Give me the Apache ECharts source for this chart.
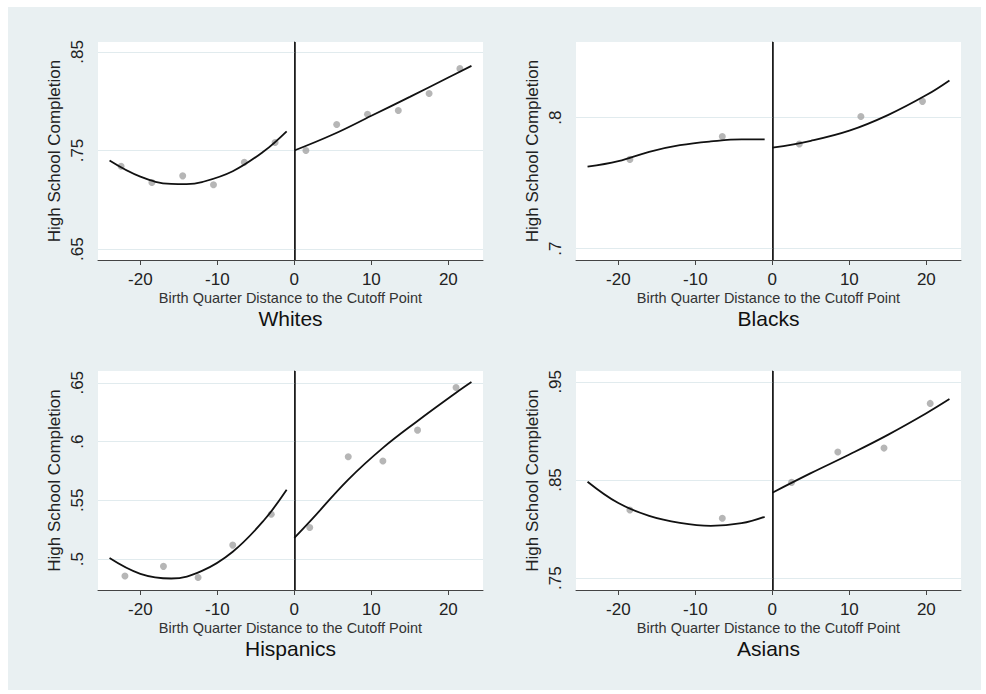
<!DOCTYPE html>
<html lang="en">
<head>
    <meta charset="UTF-8">
    <title>rd_high_school_completion</title>
    <style type="text/css">
        html, body {
            margin: 0;
            padding: 0;
            background: #fff;
        }
        #frame {
            position: absolute;
            left: 8px;
            top: 7px;
            width: 973px;
            height: 683px;
            background: #e9f0f2;
        }
        #box {
            position: absolute;
            left: 0;
            top: 0;
            width: 986px;
            height: 694px;
        }
    </style>
</head>
<body>
<div id="frame"></div>
<div id="box"></div>
<script type="text/javascript" src="https://cdn.jsdelivr.net/npm/echarts@6/dist/echarts.min.js"></script>
<script type="text/javascript">
    // x ticks shared by all panels
    const xTicks = [-20, -10, 0, 10, 20];

    // Whites
    const whitesBinX = [-22.5, -18.5, -14.5, -10.5, -6.5, -2.5, 1.5, 5.5, 9.5, 13.5, 17.5, 21.5];
    const whitesMean = [0.734, 0.7175, 0.7243, 0.7152, 0.7381, 0.7581, 0.750, 0.7764, 0.7868, 0.7905, 0.8078, 0.833];
    const whitesFitLeftX = [-24, -20, -16, -14, -12, -8, -4, -1];
    const whitesFitLeft = [0.7398, 0.7235, 0.7162, 0.716, 0.718, 0.729, 0.749, 0.7695];
    const whitesFitRightX = [0, 5, 10, 15, 20, 23];
    const whitesFitRight = [0.750, 0.7662, 0.7852, 0.8044, 0.824, 0.8358];
    const whitesTicks = [0.65, 0.75, 0.85];

    // Blacks
    const blacksBinX = [-18.5, -6.5, 3.5, 11.5, 19.5];
    const blacksMean = [0.7682, 0.7857, 0.7799, 0.801, 0.8125];
    const blacksFitLeftX = [-24, -20, -16, -12, -8, -4, -1];
    const blacksFitLeft = [0.7626, 0.7669, 0.774, 0.779, 0.7819, 0.7835, 0.7835];
    const blacksFitRightX = [0, 5, 10, 15, 20, 23];
    const blacksFitRight = [0.7771, 0.7824, 0.7901, 0.802, 0.8173, 0.8285];
    const blacksTicks = [0.7, 0.8];

    // Hispanics
    const hispBinX = [-22, -17, -12.5, -8, -3, 2, 7, 11.5, 16, 21];
    const hispMean = [0.4856, 0.4938, 0.4844, 0.5119, 0.5382, 0.5269, 0.587, 0.5835, 0.6097, 0.646];
    const hispFitLeftX = [-24, -20, -16, -12, -8, -4, -1];
    const hispFitLeft = [0.5009, 0.4875, 0.4835, 0.490, 0.5063, 0.5326, 0.5589];
    const hispFitRightX = [0, 2.3, 7, 11.5, 16, 21, 23];
    const hispFitRight = [0.518, 0.534, 0.5676, 0.5946, 0.6175, 0.6415, 0.6506];
    const hispTicks = [0.5, 0.55, 0.6, 0.65];

    // Asians
    const asianBinX = [-18.5, -6.5, 2.5, 8.5, 14.5, 20.5];
    const asianMean = [0.8195, 0.811, 0.8476, 0.8785, 0.8825, 0.928];
    const asianFitLeftX = [-24, -20, -16, -12, -8, -4, -1];
    const asianFitLeft = [0.8483, 0.8265, 0.8135, 0.8063, 0.8033, 0.806, 0.8125];
    const asianFitRightX = [0, 5, 10, 15, 20, 23];
    const asianFitRight = [0.8371, 0.857, 0.876, 0.896, 0.918, 0.9324];
    const asianTicks = [0.75, 0.85, 0.95];

    const panelNames = ['Whites', 'Blacks', 'Hispanics', 'Asians'];
    const yRanges = [[0.639, 0.86], [0.6914, 0.8578], [0.4737, 0.66], [0.738, 0.961]];

    const font = 'Liberation Sans';

    function zip(xs, ys) {
        return xs.map((x, i) => [x, ys[i]]);
    }

    function fmt(v) {
        return String(v).replace(/^0/, '');
    }

    const panels = [
        {binX: whitesBinX, mean: whitesMean, lx: whitesFitLeftX, ly: whitesFitLeft, rx: whitesFitRightX, ry: whitesFitRight, ticks: whitesTicks},
        {binX: blacksBinX, mean: blacksMean, lx: blacksFitLeftX, ly: blacksFitLeft, rx: blacksFitRightX, ry: blacksFitRight, ticks: blacksTicks},
        {binX: hispBinX, mean: hispMean, lx: hispFitLeftX, ly: hispFitLeft, rx: hispFitRightX, ry: hispFitRight, ticks: hispTicks},
        {binX: asianBinX, mean: asianMean, lx: asianFitLeftX, ly: asianFitLeft, rx: asianFitRightX, ry: asianFitRight, ticks: asianTicks}
    ];

    const grids = [
        {left: 98, top: 42, width: 385, height: 218},
        {left: 576, top: 42, width: 385, height: 218},
        {left: 98, top: 371, width: 385, height: 219},
        {left: 576, top: 371, width: 385, height: 219}
    ];

    let myChart = echarts.init(document.getElementById('box'), null, {renderer: 'svg'});

    let xAxes = [], yAxes = [], series = [], graphics = [];
    panels.forEach(function (p, i) {
        xAxes.push({
            type: 'value',
            gridIndex: i,
            min: -25.5,
            max: 24.5,
            splitLine: {show: false},
            axisLine: {show: true, onZero: false, lineStyle: {color: '#444', width: 1}},
            axisTick: {show: true, length: 5, customValues: xTicks, lineStyle: {color: '#444'}},
            axisLabel: {customValues: xTicks, margin: 11, fontSize: 17, fontFamily: font, color: '#222'},
            name: 'Birth Quarter Distance to the Cutoff Point',
            nameLocation: 'middle',
            nameGap: 30,
            nameTextStyle: {fontSize: 14.5, fontFamily: font, color: '#333'}
        });
        yAxes.push({
            type: 'value',
            gridIndex: i,
            min: yRanges[i][0],
            max: yRanges[i][1],
            splitLine: {show: false},
            axisLine: {show: true, lineStyle: {color: '#444', width: 1}},
            axisTick: {show: true, length: 5, customValues: p.ticks, lineStyle: {color: '#444'}},
            axisLabel: {customValues: p.ticks, rotate: 90, margin: 12, fontSize: 17, fontFamily: font, color: '#222', formatter: fmt},
            name: 'High School Completion',
            nameLocation: 'middle',
            nameGap: 35,
            nameTextStyle: {fontSize: 17, fontFamily: font, color: '#222'}
        });
        // gridlines sit under everything
        series.push({
            type: 'scatter',
            xAxisIndex: i,
            yAxisIndex: i,
            symbolSize: 7,
            itemStyle: {color: '#a4a4a4'},
            data: zip(p.binX, p.mean),
            z: 3,
            markLine: {
                silent: true,
                z: 1,
                symbol: 'none',
                label: {show: false},
                animation: false,
                lineStyle: {color: '#e1ebee', width: 1, type: 'solid'},
                data: p.ticks.map(v => ({yAxis: v}))
            }
        });
        [[p.lx, p.ly], [p.rx, p.ry]].forEach(function (seg, k) {
            let s = {
                type: 'line',
                xAxisIndex: i,
                yAxisIndex: i,
                smooth: 0.4,
                symbol: 'none',
                lineStyle: {color: '#111', width: 1.8},
                data: zip(seg[0], seg[1]),
                z: 4
            };
            if (k === 1) {
                // cutoff line at 0
                s.markLine = {
                    silent: true,
                    symbol: 'none',
                    label: {show: false},
                    animation: false,
                    lineStyle: {color: '#111', width: 1.5, type: 'solid'},
                    data: [{xAxis: 0}]
                };
            }
            series.push(s);
        });
        graphics.push({
            type: 'text',
            x: grids[i].left + grids[i].width / 2,
            y: grids[i].top + grids[i].height + 48,
            style: {text: panelNames[i], font: '21px "Liberation Sans"', fill: '#111', textAlign: 'center'}
        });
    });

    let option = {
        animation: false,
        grid: grids.map(g => Object.assign({show: true, backgroundColor: '#fff', borderWidth: 0}, g)),
        xAxis: xAxes,
        yAxis: yAxes,
        series: series,
        graphic: graphics
    };
    myChart.setOption(option);
</script>
</body>
</html>
